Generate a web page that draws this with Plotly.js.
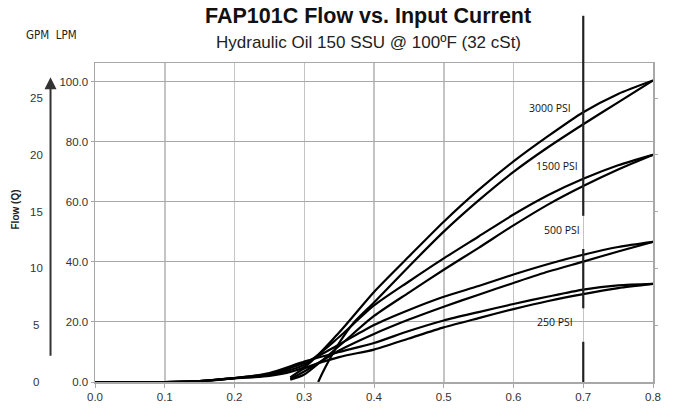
<!DOCTYPE html>
<html>
<head>
<meta charset="utf-8">
<script src="https://cdn.plot.ly/plotly-3.0.1.min.js"></script>
<style>html,body{margin:0;padding:0;background:#fff;}#chart{width:673px;height:409px;}</style>
</head>
<body>
<div id="chart"></div>
<script>
// Input current (A) and flow (LPM) for each pressure, upper (decreasing) and lower (increasing) branches
const xUpper = [0, 0.05, 0.1, 0.15, 0.2, 0.25, 0.3, 0.35, 0.4, 0.45, 0.5, 0.55, 0.6, 0.65, 0.7, 0.75, 0.8];
const xLower = [0.28, 0.3, 0.35, 0.4, 0.45, 0.5, 0.55, 0.6, 0.65, 0.7, 0.75, 0.8];
const xLower3000 = [0.32, 0.325, 0.335, 0.35, 0.37, 0.4, 0.45, 0.5, 0.55, 0.6, 0.65, 0.7, 0.75, 0.8];

const up3000 = [0, 0, 0, 0.3, 1.3, 2.0, 5.0, 16.5, 30.0, 41.8, 53.4, 64.0, 73.5, 82.0, 89.9, 96.0, 100.5];
const lo3000 = [0, 2.5, 7.0, 13.0, 19.5, 26.5, 38.5, 50.1, 60.5, 70.0, 78.3, 85.9, 93.2, 100.5];
const up1500 = [0, 0, 0, 0.3, 1.3, 2.3, 5.7, 15.0, 25.5, 33.5, 41.2, 48.5, 55.8, 62.3, 67.7, 72.2, 75.7];
const lo1500 = [0.8, 2.5, 12.0, 22.0, 29.8, 37.4, 44.7, 52.2, 59.2, 65.3, 70.8, 75.7];
const up500  = [0, 0, 0, 0.3, 1.3, 2.7, 6.3, 12.5, 19.0, 24.0, 28.4, 32.0, 35.8, 39.3, 42.4, 45.0, 46.7];
const lo500  = [1.0, 3.5, 10.5, 16.0, 20.8, 25.1, 29.1, 33.0, 36.8, 40.1, 43.5, 46.7];
const up250  = [0, 0, 0, 0.3, 1.3, 3.0, 6.8, 10.0, 13.0, 17.0, 20.5, 23.3, 26.0, 28.5, 30.8, 32.2, 32.7];
const lo250  = [1.5, 4.5, 8.3, 10.8, 14.5, 18.2, 21.3, 24.3, 27.0, 29.3, 31.3, 32.7];

const xTicks = [0, 0.1, 0.2, 0.3, 0.4, 0.5, 0.6, 0.7, 0.8];
const lpmTicks = [0, 20, 40, 60, 80, 100];
const gpmTicks = [0, 5, 10, 15, 20, 25];
const LPM_PER_GPM = 3.785;
const Y_MAX = 106.3;
const markerCurrent = 0.7;

const pressureLabels = [
  {text: '3000 PSI', x: 0.652, y: 91.4},
  {text: '1500 PSI', x: 0.663, y: 72.0},
  {text: '500 PSI',  x: 0.670, y: 50.7},
  {text: '250 PSI',  x: 0.660, y: 19.9}
];

const line = {color: '#000', width: 2.2, shape: 'spline', smoothing: 0.7};
const series = [
  [xUpper, up3000], [xLower3000, lo3000],
  [xUpper, up1500], [xLower, lo1500],
  [xUpper, up500], [xLower, lo500],
  [xUpper, up250], [xLower, lo250]
];
const traces = series.map(s => ({x: s[0], y: s[1], type: 'scatter', mode: 'lines', line: line, hoverinfo: 'skip', showlegend: false}));
// invisible trace on second axis to get GPM ticks on right border
traces.push({x: [0], y: [0], yaxis: 'y2', mode: 'markers', marker: {opacity: 0}, showlegend: false, hoverinfo: 'skip'});

const font = 'Liberation Sans, Arial, sans-serif';
const annotations = [
  {text: '<b>FAP101C Flow vs. Input Current</b>', xref: 'paper', yref: 'paper', x: 0.49, y: 1.147, yanchor: 'middle', xanchor: 'center', showarrow: false, font: {family: font, size: 21.5, color: '#111'}},
  {text: 'Hydraulic Oil 150 SSU @ 100ºF (32 cSt)', xref: 'paper', yref: 'paper', x: 0.49, y: 1.064, yanchor: 'middle', xanchor: 'center', showarrow: false, font: {family: font, size: 17, color: '#222'}},
  {text: 'GPM  LPM', xref: 'paper', yref: 'paper', x: -0.078, y: 1.088, xanchor: 'center', yanchor: 'middle', showarrow: false, font: {family: 'DejaVu Sans Condensed, Liberation Sans Narrow, sans-serif', size: 11.5, color: '#222'}},
  {text: '<b>Flow (Q)</b>', xref: 'paper', yref: 'paper', x: -0.142, y: 0.54, textangle: -90, xanchor: 'center', yanchor: 'middle', showarrow: false, font: {family: font, size: 10, color: '#222'}},
  {text: '', xref: 'paper', yref: 'paper', x: -0.0797, y: 0.955, ax: 0, ay: 280, showarrow: true, arrowhead: 2, arrowsize: 1.2, arrowwidth: 2, arrowcolor: '#333'}
];
gpmTicks.forEach(g => annotations.push({text: String(g), xref: 'paper', yref: 'y', x: -0.105, y: g * LPM_PER_GPM, xanchor: 'center', yanchor: 'middle', showarrow: false, font: {family: font, size: 11.5, color: '#333'}}));
pressureLabels.forEach(p => annotations.push({text: p.text, xref: 'x', yref: 'y', x: p.x, y: p.y, xanchor: 'center', yanchor: 'middle', showarrow: false, font: {family: 'Open Sans, Noto Sans, sans-serif', size: 10.5, color: '#111'}}));

// Vertical marker line at 0.7 A with gaps around the lower labels
const seg = [[1.148, 0.521], [0.417, 0.231], [0.126, 0]];
const shapes = seg.map(s => ({type: 'line', xref: 'x', yref: 'paper', x0: markerCurrent, x1: markerCurrent, y0: s[0], y1: s[1], line: {color: '#222', width: 2.2}, layer: 'above'}));
// white box behind the 250 PSI label (hides the grid line, stays under the curves)
shapes.push({type: 'rect', xref: 'x', yref: 'y', x0: 0.617, x1: 0.702, y0: 14.5, y1: 24.0, fillcolor: '#fff', line: {width: 0}, layer: 'below'});

const layout = {
  width: 673, height: 409,
  margin: {l: 94.5, r: 20.3, t: 63, b: 27, pad: 0},
  paper_bgcolor: '#fff', plot_bgcolor: '#fff',
  font: {family: font, color: '#333', size: 11.5},
  xaxis: {range: [0, 0.8], tickvals: xTicks, ticktext: xTicks.map(v => v.toFixed(1)), showgrid: true, gridcolor: '#c4c4c4', gridwidth: 1.5,
          showline: true, mirror: true, linecolor: '#a8a8a8', linewidth: 1.5, ticks: 'outside', ticklen: 4, tickcolor: '#a8a8a8', zeroline: false, fixedrange: true,
          tickfont: {size: 11.5, color: '#333'}},
  yaxis: {range: [0, Y_MAX], tickvals: lpmTicks, ticktext: lpmTicks.map(v => v.toFixed(1)), showgrid: true, gridcolor: '#a8a8a8', gridwidth: 1,
          showline: true, mirror: true, linecolor: '#a8a8a8', linewidth: 1.5, ticks: 'outside', ticklen: 3, tickcolor: '#a8a8a8', zeroline: false, fixedrange: true,
          tickfont: {size: 11.5, color: '#333'}},
  yaxis2: {overlaying: 'y', side: 'right', range: [0, Y_MAX / LPM_PER_GPM], tickvals: gpmTicks.slice(1), showticklabels: false, ticks: 'outside', ticklen: 4, tickcolor: '#a8a8a8', showgrid: false, zeroline: false, showline: false},
  annotations: annotations,
  shapes: shapes,
  showlegend: false
};

Plotly.newPlot('chart', traces, layout, {staticPlot: true, displayModeBar: false});
</script>
</body>
</html>
